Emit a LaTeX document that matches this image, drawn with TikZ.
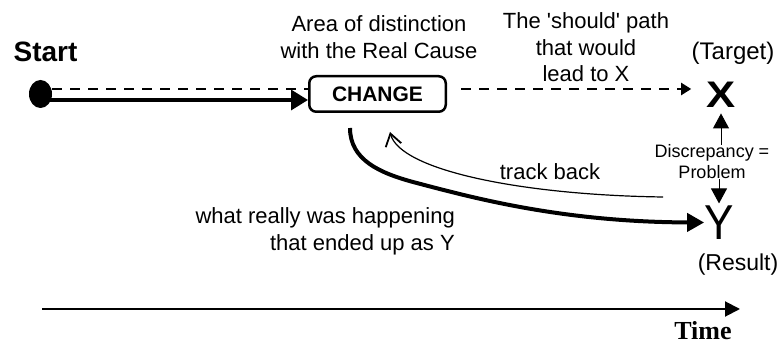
\documentclass[tikz,border=0pt]{standalone}
\usepackage{fontspec}
\setmainfont{Liberation Sans}
\newfontfamily\serifbf{Liberation Serif}
\usetikzlibrary{arrows.meta,shapes.geometric,calc}
\begin{document}
\begin{tikzpicture}[x=1pt,y=-1pt,
  lbl/.style={font=\fontsize{22}{27}\selectfont, inner sep=0pt, align=center},
  changebox/.style={draw, line width=2.5pt, rounded corners=7pt, minimum width=136.5pt,
    minimum height=35.5pt, inner sep=0pt, font=\bfseries\fontsize{21}{21}\selectfont},
  solidarrow/.style={line width=3.5pt, -{Triangle[length=17pt,width=20pt]}},
  dashline/.style={line width=2pt, dash pattern=on 10pt off 8pt},
  dasharrow/.style={line width=2pt, dash pattern=on 10pt off 8pt, -{Triangle[length=10pt,width=12pt]}},
  thickcurve/.style={line width=4pt, -{Triangle[length=17pt,width=18pt]}},
  thincurve/.style={line width=1.2pt, -{Straight Barb[length=12pt,width=16pt,line width=1.8pt]}},
  smallarrow/.style={line width=1pt, -{Triangle[length=15pt,width=16pt]}},
  timearrow/.style={line width=2pt, -{Triangle[length=15pt,width=15pt]}}
]
\useasboundingbox (0,0) rectangle (784,344);

% nodes
\node[font=\bfseries\fontsize{28}{30}\selectfont, inner sep=0pt] (start) at (45.5,52) {Start};
\node[fill, ellipse, minimum width=23pt, minimum height=28pt, inner sep=0pt] (dot) at (40.5,94) {};
\node[changebox] (change) at (377.5,94) {CHANGE};
\node[lbl] (area) at (379,37.5) {Area of distinction\\with the Real Cause};
\node[lbl, font=\fontsize{22}{26.5}\selectfont] (should) at (586,47.5)
  {The \textquotesingle should\textquotesingle{} path\\that would\\lead to X};
\node[lbl, font=\fontsize{24}{27}\selectfont] (target) at (733,53) {(Target)};
\node[font=\bfseries\fontsize{37}{37}\selectfont, inner sep=0pt, xscale=1.18] (X) at (721,94.5) {X};
\node[font=\fontsize{18}{21}\selectfont, inner sep=0pt, align=center] (disc) at (712,162) {Discrepancy =\\Problem};
\node[font=\fontsize{49}{49}\selectfont, inner sep=0pt, xscale=0.9] (Y) at (719,222.5) {Y};
\node[lbl, font=\fontsize{23}{27}\selectfont] (result) at (738,265) {(Result)};
\node[lbl] (track) at (550,171.5) {track back};
\node[lbl, align=right, anchor=east] (what) at (455,231) {what really was happening\\that ended up as Y};
\node[font=\serifbf\bfseries\fontsize{26}{26}\selectfont, inner sep=0pt] (time) at (703,330.5) {Time};

\coordinate (cstart) at (350,128);
\coordinate (tbstart) at (663,197);
\coordinate (tbend) at (390,132);
\coordinate (t0) at (42,309);
\coordinate (t1) at (740,309);

% connectors
\draw[dashline] ($(dot.east)+(0,-5)$) -- ($(change.west)+(0,-5)$);
\draw[solidarrow] ($(dot.center)+(0,6)$) -- ($(change.west)+(0,6)$);
\draw[dasharrow, shorten <=14pt, shorten >=15pt] ($(change.east)+(0,-5)$) -- ($(change.east -| X.west)+(0,-5)$);
\draw[smallarrow, shorten >=6pt] (X.south |- disc.north) -- (X.south);
\draw[smallarrow, shorten >=2pt] (Y.north |- disc.south) -- (Y.north);
\draw[thickcurve] (cstart) .. controls (350,160) and (380,173) .. (413,182)
  .. controls (470,197) and (560,222) .. (Y.west);
\draw[thincurve] (tbstart) .. controls (520,195) and (400,170) .. (tbend);
\draw[timearrow] (t0) -- (t1);
\end{tikzpicture}
\end{document}
